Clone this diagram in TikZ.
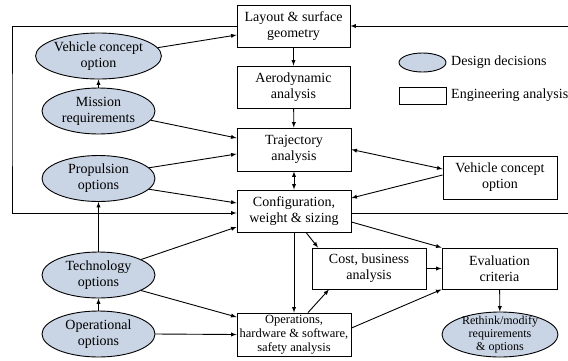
\documentclass[tikz,border=0pt]{standalone}
\usepackage{fontspec}
\setmainfont{Liberation Serif}
\usetikzlibrary{arrows}
\usetikzlibrary{shapes.geometric}
\definecolor{decfill}{RGB}{201,212,228}
\tikzset{anbox/.style = {draw, rectangle, line width = 0.9pt, minimum width = 113pt, minimum height = 42pt, inner sep = 1pt, align = center, font = \fontsize{14}{16}\selectfont}}
\tikzset{decell/.style = {draw, ellipse, fill = decfill, line width = 0.9pt, minimum width = 113pt, minimum height = 46pt, inner sep = 0pt, align = center, font = \fontsize{14}{16}\selectfont}}
\tikzset{link/.style = {->, >=latex, line width = 0.9pt}}
\tikzset{dlink/.style = {<->, >=latex, line width = 0.9pt}}
\tikzset{legtext/.style = {anchor = west, inner sep = 0pt, font = \fontsize{14}{16}\selectfont}}

\begin{document}
\begin{tikzpicture}[x = 1pt, y = -1pt]
      \useasboundingbox (0, 0) rectangle (568, 360);
      \clip (0, 0) rectangle (568, 360);

      \node [anbox] (lay) at (293.5, 26) {Layout \& surface\\geometry};
      \node [anbox] (aero) at (293.5, 87) {Aerodynamic\\analysis};
      \node [anbox, minimum width = 114pt, minimum height = 43pt] (traj) at (294, 149.5) {Trajectory\\analysis};
      \node [anbox, minimum width = 114pt] (conf) at (294, 211) {Configuration,\\weight \& sizing};
      \node [anbox, minimum width = 114pt, minimum height = 43pt, font = \fontsize{12.5}{14}\selectfont] (ops) at (294, 334.5) {Operations,\\hardware \& software,\\safety analysis};
      \node [anbox, minimum width = 114pt, minimum height = 41pt] (cost) at (369, 268.5) {Cost, business\\analysis};
      \node [anbox, minimum width = 115pt, minimum height = 41pt] (eval) at (499.5, 268.5) {Evaluation\\criteria};
      \node [anbox, minimum width = 114pt, minimum height = 43pt] (veh) at (500, 177.5) {Vehicle concept\\option};
      \node [decell, minimum width = 116pt, minimum height = 45pt, inner ysep = -3pt, font = \fontsize{12}{13}\selectfont] (rethink) at (500, 334.5) {Rethink/modify\\requirements\\\& options};

      \node [decell] (vco) at (98.5, 56) {Vehicle concept\\option};
      \node [decell] (mis) at (98.5, 111) {Mission\\requirements};
      \node [decell] (prop) at (98.5, 178.5) {Propulsion\\options};
      \node [decell] (tech) at (98.5, 275) {Technology\\options};
      \node [decell] (oper) at (98.5, 334) {Operational\\options};

      \node [decell, minimum width = 47pt, minimum height = 19pt] (legell) at (422.5, 62.5) {};
      \node [legtext] (legdec) at (451, 62.5) {Design decisions};
      \node [anbox, minimum width = 47pt, minimum height = 17pt] (legbox) at (422.5, 95.5) {};
      \node [legtext] (legeng) at (451, 95.5) {Engineering analysis};

      \coordinate (ledge) at (12, 120);
      \coordinate (redge) at (572, 120);

      \draw [link] (lay) -- (aero);
      \draw [link] (aero) -- (traj);
      \draw [dlink] (traj) -- (conf);
      \draw [link] (mis) -- (vco);
      \draw [link] (tech) -- (prop);
      \draw [link] (oper) -- (tech);

      \draw [link] (vco.8) -- ([yshift = -9pt]lay.west);
      \draw [link] (mis.-10) -- ([yshift = 11.5pt]traj.west);
      \draw [link] (prop.12) -- ([yshift = -4.5pt]traj.west);
      \draw [link] (prop.-12) -- ([yshift = 8pt]conf.west);
      \draw [link] (tech.20) -- ([yshift = -16pt]conf.west);
      \draw [link] (tech.-20) -- ([yshift = 17.5pt]ops.west);
      \draw [link] (oper.east) -- (ops.west);
      \draw [link] (lay.west) -| (ledge) |- ([yshift = -2pt]conf.west);
      \draw [link] ([yshift = -2pt]conf.east) -| (redge) |- (lay.east);

      \draw [link] (conf.south) -- (ops.north);
      \draw [link] ([xshift = 12pt]conf.south) -- ([xshift = -51pt]cost.north);
      \draw [link] ([xshift = 14pt]ops.north) -- ([xshift = -40pt]cost.south);
      \draw [link] ([yshift = -11pt]conf.east) -- (eval.north west);
      \draw [link] (cost.east) -- (eval.west);
      \draw [link] ([yshift = 6.5pt]ops.east) -- (eval.south west);
      \draw [link] (eval) -- (rethink);
      \draw [dlink] (traj.east) -- ([yshift = 8.5pt]veh.west);
      \draw [link] ([yshift = 2.5pt]veh.west) -- ([yshift = 13pt]conf.east);
    \end{tikzpicture}
\end{document}
